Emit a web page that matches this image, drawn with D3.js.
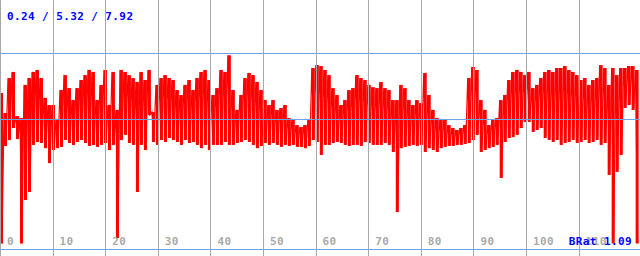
<!DOCTYPE html>
<meta charset="utf-8">
<style>
body { margin: 0; background: #fff; }
svg { display: block; }
.grid line { stroke: #a8a8a8; stroke-width: 1; shape-rendering: crispEdges; }
.hline { stroke: #6fa3ea; stroke-width: 1; shape-rendering: crispEdges; }
.lbl { font: bold 11px "DejaVu Sans Mono", monospace; letter-spacing: 0.4px; }
.bar { stroke: #ff0000; stroke-width: 3; }
</style>
<body>
<script src="https://cdn.jsdelivr.net/npm/d3@7"></script>
<script>

// samples, one pair (high / low) per step along the x axis
var xStep = 0.76;
var hiVals = [6.38,5.56,6.99,7.24,5.44,5.36,6.71,6.99,7.24,7.32,6.99,6.18,5.89,5.89,5.28,6.50,
  7.11,6.58,6.09,6.58,6.91,7.11,7.32,7.24,6.09,6.71,7.32,5.89,7.24,5.69,7.32,7.24,
  7.11,6.99,6.83,7.24,6.91,7.32,5.60,6.71,6.99,7.11,6.99,6.91,6.50,6.30,6.71,6.91,
  6.50,6.99,7.24,7.32,6.91,6.30,6.58,7.32,7.24,7.92,6.50,5.69,6.30,6.99,7.20,7.11,
  6.83,6.50,6.09,5.89,6.09,5.69,5.77,5.89,5.36,5.28,5.07,4.99,5.07,5.28,7.40,7.52,
  7.48,7.32,7.11,6.58,6.30,5.89,6.09,6.50,6.58,7.11,6.99,6.91,6.71,6.62,6.58,6.83,
  6.58,6.50,6.09,6.09,6.71,6.58,6.09,5.89,6.09,5.97,7.20,6.30,5.69,5.36,5.28,5.28,
  5.07,4.95,4.87,4.95,5.07,6.99,7.44,7.32,6.09,5.69,5.07,5.28,5.36,6.09,6.30,6.91,
  7.24,7.32,7.24,7.11,7.24,6.58,6.71,6.99,7.24,7.32,7.24,7.40,7.40,7.48,7.32,7.24,
  7.11,6.91,6.99,6.71,6.91,6.99,7.52,7.40,6.71,7.40,7.11,7.40,7.40,7.48,7.48,7.32];
var loVals = [0.24,4.22,4.46,4.95,4.50,0.24,2.01,2.34,4.26,4.38,4.34,4.13,3.52,4.05,4.13,4.18,
  4.46,4.34,4.26,4.38,4.46,4.34,4.22,4.26,4.18,4.26,4.34,4.05,4.26,0.46,4.46,4.67,
  4.34,4.26,2.34,4.26,4.05,5.48,4.38,4.26,4.46,4.38,4.54,4.46,4.38,4.26,4.46,4.34,
  4.38,4.26,4.13,4.26,4.05,4.26,4.26,4.26,4.38,4.26,4.26,4.34,4.38,4.46,4.38,4.26,
  4.13,4.22,4.34,4.26,4.34,4.26,4.18,4.26,4.22,4.26,4.18,4.18,4.13,4.22,4.46,4.38,
  3.85,4.26,4.26,4.34,4.38,4.34,4.26,4.22,4.26,4.26,4.22,4.38,4.34,4.26,4.26,4.26,
  4.34,4.26,3.97,1.52,4.13,4.18,4.22,4.26,4.22,4.26,3.97,4.13,4.05,3.97,4.13,4.18,
  4.22,4.22,4.26,4.26,4.30,4.34,4.46,4.67,3.97,4.05,4.13,4.18,4.26,2.91,4.38,4.54,
  4.58,4.67,4.95,5.20,5.20,4.79,4.87,4.95,4.54,4.46,4.38,4.46,4.26,4.34,4.38,4.46,
  4.34,4.38,4.46,4.34,4.38,4.46,4.26,4.34,3.03,0.24,3.16,3.85,5.77,5.89,5.69,0.24];

var xTicks = [0, 10, 20, 30, 40, 50, 60, 70, 80, 90, 100, 110];
var refLines = [0, 5.32, 8];
var statsText = "0.24 / 5.32 / 7.92";
var ratioText = "BRat 1.09";

var width = 640, height = 256;

var svg = d3.select("body").append("svg")
    .attr("width", width)
    .attr("height", height);

var x = d3.scaleLinear().domain([0, 121.67]).range([0, width]),
    y = d3.scaleLinear().domain([0, 8]).range([249.3, 53.3]);

var samples = hiVals.map(function(h, i) {
  return {t: i * xStep, hi: h, lo: loVals[i]};
});

// one vertical bar per sample, low to high
svg.append("g")
  .selectAll("line")
    .data(samples)
  .enter().append("line")
    .attr("class", "bar")
    .attr("x1", function(d) { return x(d.t) + 1.5; })
    .attr("x2", function(d) { return x(d.t) + 1.5; })
    .attr("y1", function(d) { return y(d.lo); })
    .attr("y2", function(d) { return y(d.hi); });

// zigzag high -> low -> high fills the gaps between bars
var pts = [];
samples.forEach(function(d) {
  pts.push([d.t, d.hi]);
  pts.push([d.t + xStep / 2, d.lo]);
});

var line = d3.line()
    .x(function(d) { return x(d[0]); })
    .y(function(d) { return y(d[1]); });

svg.append("path")
    .datum(pts)
    .attr("d", line)
    .attr("fill", "none")
    .attr("stroke", "#ff0000")
    .attr("stroke-width", 1.2);

// vertical grid
svg.append("g")
    .attr("class", "grid")
  .selectAll("line")
    .data(xTicks)
  .enter().append("line")
    .attr("x1", function(d) { return Math.round(x(d)) + 0.5; })
    .attr("x2", function(d) { return Math.round(x(d)) + 0.5; })
    .attr("y1", 0)
    .attr("y2", height);

svg.selectAll(".hline")
    .data(refLines)
  .enter().append("line")
    .attr("class", "hline")
    .attr("x1", 0)
    .attr("x2", width)
    .attr("y1", function(d) { return Math.round(y(d)) + 0.5; })
    .attr("y2", function(d) { return Math.round(y(d)) + 0.5; });

svg.selectAll(".tick-lbl")
    .data(xTicks)
  .enter().append("text")
    .attr("class", "lbl tick-lbl")
    .attr("x", function(d) { return x(d) + 7; })
    .attr("y", 245)
    .attr("fill", "#aaaaaa")
    .text(function(d) { return d; });

svg.append("text")
    .attr("class", "lbl")
    .attr("x", 7)
    .attr("y", 19.5)
    .attr("fill", "#0000ff")
    .text(statsText);

svg.append("text")
    .attr("class", "lbl")
    .attr("x", 632)
    .attr("y", 245)
    .attr("text-anchor", "end")
    .attr("fill", "#0000ff")
    .text(ratioText);

</script>
